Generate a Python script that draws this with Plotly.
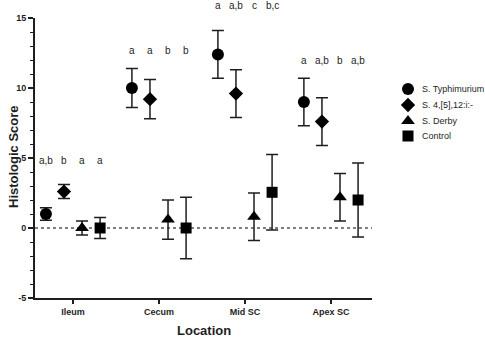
import plotly.graph_objects as go

locations = ["Ileum", "Cecum", "Mid SC", "Apex SC"]
series_names = ["S. Typhimurium", "S. 4,[5],12:i:-", "S. Derby", "Control"]
typhimurium_mean = [1.0, 10.0, 12.4, 9.0]
typhimurium_err = [0.45, 1.4, 1.7, 1.7]
monophasic_mean = [2.6, 9.2, 9.6, 7.6]
monophasic_err = [0.5, 1.4, 1.7, 1.7]
derby_mean = [0.0, 0.6, 0.8, 2.2]
derby_err = [0.5, 1.4, 1.7, 1.7]
control_mean = [0.0, 0.0, 2.55, 2.0]
control_err = [0.75, 2.2, 2.7, 2.65]
letters_ileum = ["a,b", "b", "a", "a"]
letters_cecum = ["a", "a", "b", "b"]
letters_mid = ["a", "a,b", "c", "b,c"]
letters_apex = ["a", "a,b", "b", "a,b"]
letter_heights = [4.8, 12.7, 15.9, 12.0]
y_ticks = [-5, 0, 5, 10, 15]

means = [typhimurium_mean, monophasic_mean, derby_mean, control_mean]
errs = [typhimurium_err, monophasic_err, derby_err, control_err]
letters = [letters_ileum, letters_cecum, letters_mid, letters_apex]
offsets = [-0.315, -0.105, 0.105, 0.315]
symbols = ["circle", "diamond", "triangle-up", "square"]
sizes = [12, 11, 12, 11]

FONT = "Arial, Liberation Sans, sans-serif"
INK = "#1e1e1e"
x_lo, x_hi = -0.442, 3.477
y_lo, y_hi = -5, 15

# page / plot-area geometry in pixels
W, H = 485, 338
L, R, T, B = 35, 1, 18, 40
PLOT_RIGHT = 372
paper_w, paper_h = W - L - R, H - T - B
main_dom = (PLOT_RIGHT - L) / paper_w
leg_dom0 = main_dom + 0.005
leg_px0 = L + leg_dom0 * paper_w
leg_px1 = W - R

def px_to_paper_x(px):
    return (px - L) / paper_w

def px_to_paper_y(py):
    return (H - B - py) / paper_h

fig = go.Figure()
for k in range(4):
    xs = [i + offsets[k] for i in range(len(locations))]
    fig.add_trace(go.Scatter(
        x=xs, y=means[k], mode="markers", name=series_names[k],
        marker=dict(symbol=symbols[k], size=sizes[k], color="black"),
        error_y=dict(type="data", array=errs[k], visible=True,
                     color=INK, thickness=1.5, width=6),
        cliponaxis=False, showlegend=False,
    ))

# custom legend on its own pixel-scaled axes
leg_marker_px = 408
leg_text_px = 420
leg_rows_px = [89, 105, 121, 136]
for k in range(4):
    fig.add_trace(go.Scatter(
        x=[leg_marker_px], y=[leg_rows_px[k]], xaxis="x2", yaxis="y2",
        mode="markers", marker=dict(symbol=symbols[k], size=sizes[k], color="black"),
        cliponaxis=False, showlegend=False, hoverinfo="skip",
    ))
    fig.add_annotation(x=px_to_paper_x(leg_text_px), y=px_to_paper_y(leg_rows_px[k]),
                       xref="paper", yref="paper", text=series_names[k], showarrow=False,
                       xanchor="left", yanchor="middle",
                       font=dict(family=FONT, size=9, color=INK))

fig.add_shape(type="line", xref="x", yref="y", x0=x_lo, x1=x_hi, y0=0, y1=0,
              line=dict(color="#555", width=1.3, dash="dot"), layer="below")

for i in range(len(locations)):
    for k in range(4):
        fig.add_annotation(x=i + offsets[k],
                           y=(letter_heights[i] - y_lo) / (y_hi - y_lo),
                           xref="x", yref="paper",
                           text=letters[i][k], showarrow=False,
                           font=dict(family=FONT, size=10, color=INK),
                           xanchor="center", yanchor="middle")

# axis titles
fig.add_annotation(x=px_to_paper_x((L + PLOT_RIGHT) / 2), y=px_to_paper_y(330), xref="paper", yref="paper",
                   text="<b>Location</b>", showarrow=False, xanchor="center", yanchor="middle",
                   font=dict(family=FONT, size=13, color=INK))
fig.add_annotation(x=px_to_paper_x(13), y=px_to_paper_y(157), xref="paper", yref="paper",
                   text="<b>Histologic Score</b>", showarrow=False, textangle=-90,
                   xanchor="center", yanchor="middle",
                   font=dict(family=FONT, size=13, color=INK))

fig.update_layout(
    width=W, height=H,
    margin=dict(l=L, r=R, t=T, b=B),
    paper_bgcolor="white", plot_bgcolor="white",
    font=dict(family=FONT, color=INK),
    showlegend=False,
    xaxis=dict(domain=[0, main_dom], range=[x_lo, x_hi], tickvals=list(range(len(locations))),
               ticktext=["<b>%s</b>" % s for s in locations],
               tickfont=dict(family=FONT, size=9, color=INK),
               showline=True, linecolor=INK, linewidth=2,
               ticks="outside", ticklen=4, tickwidth=1.5, tickcolor=INK,
               showgrid=False, zeroline=False, automargin=False),
    yaxis=dict(range=[y_lo, y_hi], tickvals=y_ticks,
               ticktext=["<b>%d</b>" % v for v in y_ticks],
               tickfont=dict(family=FONT, size=9, color=INK),
               showline=True, linecolor=INK, linewidth=2,
               ticks="outside", ticklen=5, tickwidth=1.5, tickcolor=INK,
               minor=dict(dtick=1, ticks="outside", ticklen=3, tickwidth=1, tickcolor=INK),
               showgrid=False, zeroline=False, automargin=False),
    xaxis2=dict(domain=[leg_dom0, 1], range=[leg_px0, leg_px1], anchor="y2",
                visible=False, fixedrange=True),
    yaxis2=dict(domain=[0, 1], range=[H - B, T], anchor="x2",
                visible=False, fixedrange=True),
)

fig.write_html("out.html", config={"displayModeBar": False},
               post_script="document.body.style.margin='0px';")
